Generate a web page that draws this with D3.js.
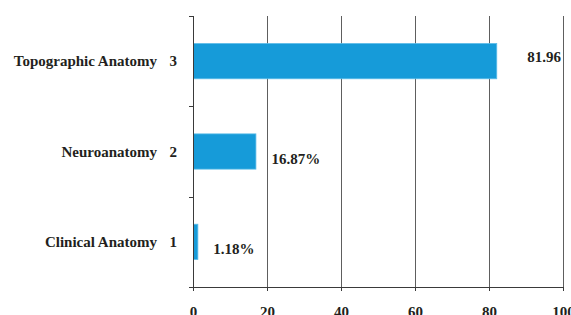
<!DOCTYPE html>
<html>
<head>
<meta charset="utf-8">
<script src="https://cdn.jsdelivr.net/npm/d3@7"></script>
<style>
  body { margin: 0; background: #fff; }
  text { font-family: "Liberation Serif", "Times New Roman", serif; font-weight: bold; fill: #231f20; }
</style>
</head>
<body>
<svg id="chart" width="571" height="315"></svg>
<script>
// categories bottom to top, with their rank numbers
const categories = ["Clinical Anatomy", "Neuroanatomy", "Topographic Anatomy"];
const ranks = ["1", "2", "3"];
const values = [1.18, 16.87, 81.96];
const valueLabels = ["1.18%", "16.87%", "81.96"];
const xTicks = [0, 20, 40, 60, 80, 100];

const svg = d3.select("#chart");

// plot area
const plotLeft = 193, plotRight = 563, plotTop = 16, plotBottom = 287;
const fontSize = 15;

const x = d3.scaleLinear().domain([0, 100]).range([plotLeft, plotRight]);

// bands run top to bottom, so reverse the order
const y = d3.scaleBand()
  .domain(ranks.slice().reverse())
  .range([plotTop, plotBottom])
  .paddingInner(0.61)
  .paddingOuter(0.305);

const yBounds = d3.scaleLinear().domain([0, ranks.length]).range([plotTop, plotBottom]);

// vertical grid lines (also serve as x ticks)
svg.append("g")
  .selectAll("line")
  .data(xTicks.slice(1))
  .join("line")
  .attr("x1", d => Math.round(x(d)) + 0.5).attr("x2", d => Math.round(x(d)) + 0.5)
  .attr("y1", plotTop).attr("y2", plotBottom + 4)
  .attr("stroke", "#5e5e5e")
  .attr("stroke-width", 1);

// bars
svg.append("g")
  .selectAll("rect")
  .data(values)
  .join("rect")
  .attr("x", x(0) + 0.5)
  .attr("y", (d, i) => y(ranks[i]))
  .attr("width", d => x(d) - x(0))
  .attr("height", y.bandwidth())
  .attr("fill", "#169bd9")
  .attr("stroke", "#5bbbe8")
  .attr("stroke-width", 0.8);

// x axis
const xAxis = svg.append("g")
  .attr("transform", `translate(0,${plotBottom})`)
  .call(d3.axisBottom(x).tickValues(xTicks).tickSize(4).tickSizeOuter(0));
xAxis.select(".domain").attr("stroke", "#3a3a3a").attr("d", `M${plotLeft - 4},0.5H${plotRight}`);
xAxis.selectAll(".tick line").attr("stroke", "#3a3a3a");
xAxis.selectAll(".tick text")
  .attr("font-size", fontSize)
  .attr("font-family", null)
  .attr("dy", null)
  .attr("y", 30);

// y axis line with tick marks at the band boundaries
const yAxis = svg.append("g").attr("transform", `translate(${plotLeft},0)`);
yAxis.append("line")
  .attr("x1", 0.5).attr("x2", 0.5)
  .attr("y1", plotTop).attr("y2", plotBottom)
  .attr("stroke", "#3a3a3a");
yAxis.selectAll("line.tick")
  .data(d3.range(ranks.length + 1))
  .join("line")
  .attr("class", "tick")
  .attr("x1", -4).attr("x2", 0.5)
  .attr("y1", d => Math.round(yBounds(d)) + 0.5)
  .attr("y2", d => Math.round(yBounds(d)) + 0.5)
  .attr("stroke", "#3a3a3a");

// rank numbers
yAxis.selectAll("text.rank")
  .data(ranks)
  .join("text")
  .attr("class", "rank")
  .attr("x", -16)
  .attr("y", d => y(d) + y.bandwidth() / 2)
  .attr("dy", "0.35em")
  .attr("text-anchor", "end")
  .attr("font-size", fontSize)
  .text(d => d);

// category names
svg.append("g")
  .selectAll("text")
  .data(categories)
  .join("text")
  .attr("x", 157)
  .attr("y", (d, i) => y(ranks[i]) + y.bandwidth() / 2)
  .attr("dy", "0.35em")
  .attr("text-anchor", "end")
  .attr("font-size", fontSize)
  .text(d => d);

// value labels: long bars get the label at the right edge
svg.append("g")
  .selectAll("text")
  .data(values)
  .join("text")
  .attr("x", d => d > 75 ? x(100) - 2 : x(d) + 16)
  .attr("y", (d, i) => y(ranks[i]) + y.bandwidth() / 2 + (d > 75 ? 1 : 12))
  .attr("text-anchor", d => d > 75 ? "end" : "start")
  .attr("font-size", fontSize)
  .text((d, i) => valueLabels[i]);
</script>
</body>
</html>
